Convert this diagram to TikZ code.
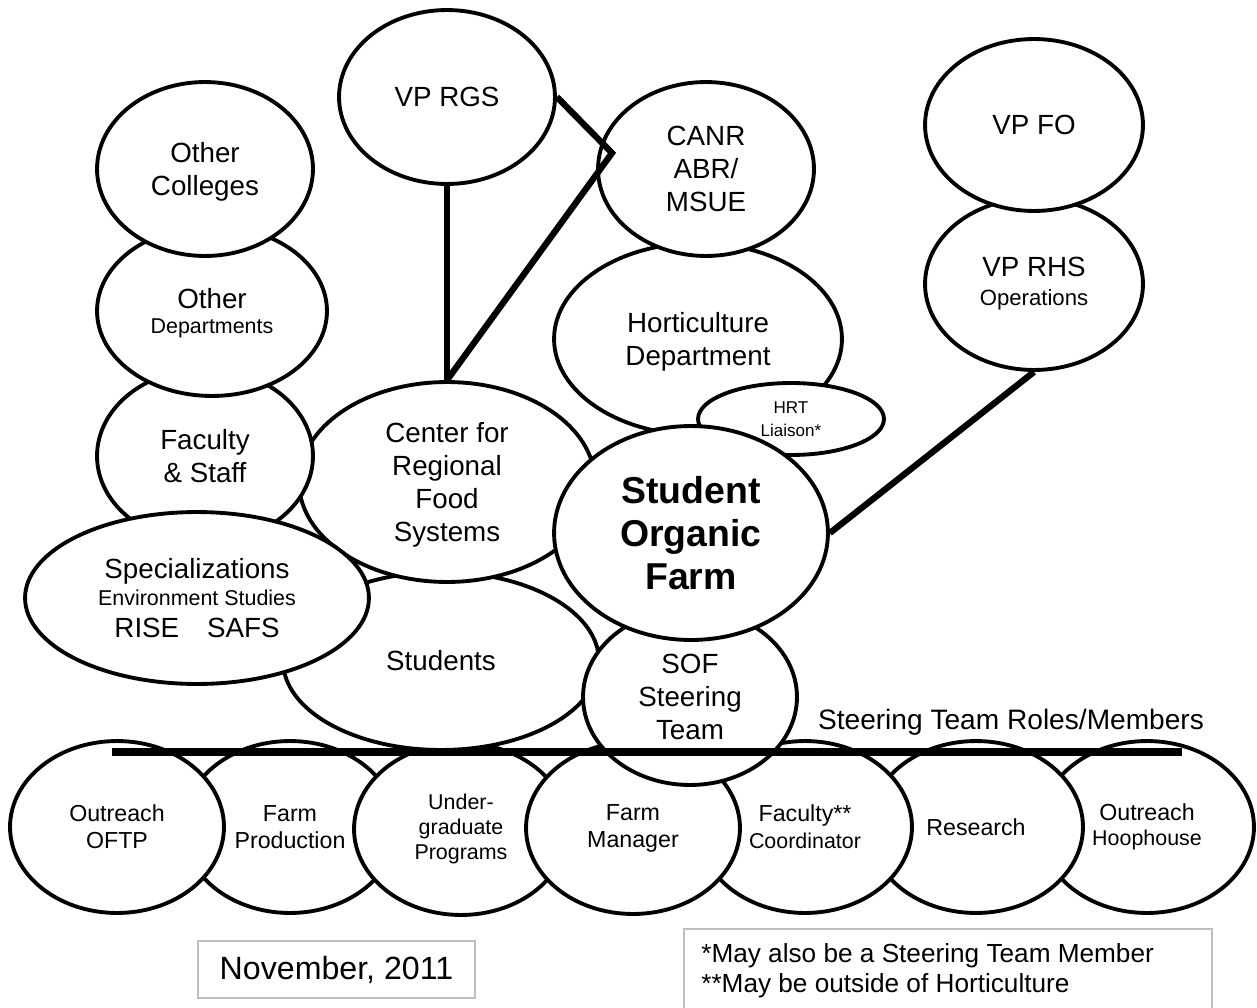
\documentclass[tikz,border=0pt]{standalone}
\usepackage{fontspec}
\setmainfont{Liberation Sans}
\usetikzlibrary{shapes.geometric}

\tikzset{
  bub/.style 2 args={ellipse, draw=black, fill=white, line width=2.2pt, inner sep=0pt, align=center,
    minimum width=#1*0.04cm, minimum height=#2*0.04cm},
  lbl/.style={font=\fontsize{15.8}{18.7}\selectfont},
  rolefont/.style={font=\fontsize{13.2}{15.3}\selectfont},
  link/.style={line width=3.6pt},
  frame/.style={draw=black!25, line width=0.7pt}
}
\newcommand{\smalltxt}{\fontsize{12.2}{14}\selectfont}

\begin{document}
\begin{tikzpicture}[x=0.02cm, y=-0.02cm]
  \useasboundingbox (0,0) rectangle (1257,1007);
  % steering team roles, back to front
  \node[bub={107}{86}, rolefont] (hoop) at (1147,827) {Outreach\\[-1pt]{\smalltxt Hoophouse}};
  \node[bub={107}{86}, rolefont] (research) at (976,827) {Research};
  \node[bub={107}{86}, rolefont] (faccoord) at (805,827) {Faculty**\\{\smalltxt Coordinator}};
  \node[bub={107}{86}, rolefont] (farmprod) at (290,827) {Farm\\Production};
  \node[bub={107}{86}, rolefont] (oftp) at (117,827) {Outreach\\OFTP};
  \node[bub={107}{86}, font=\fontsize{12.2}{14.2}\selectfont] (undergrad) at (461,829) {Under-\\graduate\\Programs};
  \node[bub={107}{86}, rolefont] (farmmgr) at (633,828) {Farm\\Manager};
  % left cluster
  \node[bub={158}{89}, lbl] (students) at (441,661) {Students};
  \node[bub={148}{100}, lbl, text depth=0pt] (crfs) at (447,482) {Center for\\Regional\\Food\\Systems};
  \node[bub={108}{87}, lbl] (facstaff) at (205,456) {Faculty\\\& Staff};
  \node[bub={115}{85}, lbl, text depth=0pt] (otherdept) at (212,311) {Other\\[-4pt]{\smalltxt Departments}};
  \node[bub={108}{87}, lbl, text depth=0pt] (othercoll) at (205,169) {Other\\Colleges};
  \node[bub={172}{86}, lbl] (spec) at (197,598) {Specializations\\[-3.4pt]{\smalltxt Environment Studies}\\[-0.6pt]RISE\quad SAFS};
  % farm and horticulture
  \node[bub={107}{88}, lbl] (sof) at (690,697) {SOF\\Steering\\Team};
  \node[bub={144}{96}, lbl, text depth=0pt] (hort) at (698,339) {Horticulture\\Department};
  \node[bub={108}{87}, lbl] (canr) at (706,169) {CANR\\ABR/\\MSUE};
  \node[bub={93}{36}, font=\fontsize{9.7}{13}\selectfont] (hrt) at (791,419) {HRT\\Liaison*};
  \node[bub={137}{107}, font=\bfseries\fontsize{21.3}{24.4}\selectfont] (sofarm) at (691,533) {Student\\Organic\\Farm};
  % vice presidents
  \node[bub={108}{87}, lbl] (vprgs) at (447,97) {VP RGS};
  \node[bub={109}{86}, lbl] (vprhs) at (1034,284) {VP RHS\\[-2.3pt]{\fontsize{12.6}{14}\selectfont Operations}};
  \node[bub={109}{86}, lbl] (vpfo) at (1034,125) {VP FO};
  % links
  \coordinate (kink) at (612,153);
  \draw[link] (vprgs.east) -- (kink) -- (crfs.north);
  \draw[link] (vprgs.south) -- (crfs.north);
  \draw[link] (vprhs.south) -- (sofarm.east);
  \coordinate (rowl) at (112,752);
  \coordinate (rowr) at (1182,752);
  \draw[line width=4pt] (rowl) -- (rowr);
  \node[font=\fontsize{16}{19}\selectfont] (rolestitle) at (1011,722) {Steering Team Roles/Members};
  % date and notes
  \node[frame, minimum width=277*0.02cm, minimum height=57*0.02cm, font=\fontsize{18.3}{22}\selectfont] (date) at (336.5,969.5) {November, 2011};
  \draw[frame] (684,929) rectangle (1212,1030);
  \node[anchor=west, align=left, inner sep=0pt, font=\fontsize{14.9}{17}\selectfont] (notes) at (701,971) {*May also be a Steering Team Member\\**May be outside of Horticulture};
\end{tikzpicture}
\end{document}
